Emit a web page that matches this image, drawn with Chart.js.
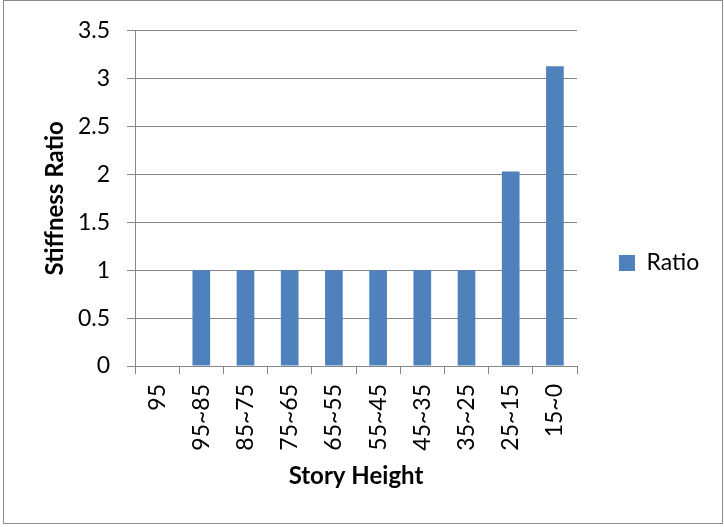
<!DOCTYPE html>
<html><head><meta charset="utf-8">
<script src="https://cdn.jsdelivr.net/npm/chart.js@4.4.1/dist/chart.umd.min.js"></script>
<style>html,body{margin:0;padding:0;background:#fff}#wrap{width:724px;height:527px;position:relative}</style>
</head><body><div id="wrap"><canvas id="c" width="724" height="527"></canvas></div>
<script>
const categories = ['95','95~85','85~75','75~65','65~55','55~45','45~35','35~25','25~15','15~0'];
const ratioValues = [null, 1, 1, 1, 1, 1, 1, 1, 2.03, 3.13];
const seriesName = 'Ratio';
const yTitle = 'Stiffness Ratio';
const xTitle = 'Story Height';
const yMin = 0, yMax = 3.5, yStep = 0.5;

const GRID = '#868686';
const BAR = '#4F81BD';
const PLOT_RIGHT = 577;

Chart.defaults.font.family = 'Lato, "Liberation Sans", sans-serif';
Chart.defaults.color = '#000';

const framePlugin = {
  id: 'frame',
  beforeDraw(chart) {
    const ctx = chart.ctx;
    ctx.save();
    ctx.fillStyle = '#fff';
    ctx.fillRect(0, 0, chart.width, chart.height);
    ctx.strokeStyle = '#8c8c8c';
    ctx.lineWidth = 1;
    ctx.strokeRect(3.5, 0.5, 719, 523);
    ctx.restore();
  }
};

const chart = new Chart(document.getElementById('c'), {
  type: 'bar',
  data: {
    labels: categories,
    datasets: [{
      label: seriesName,
      data: ratioValues,
      backgroundColor: BAR,
      borderWidth: 0,
      barPercentage: 0.4,
      categoryPercentage: 1.0
    }]
  },
  options: {
    responsive: false,
    devicePixelRatio: 1,
    animation: false,
    layout: { padding: { left: 0, top: 30, bottom: 31, right: 25 } },
    plugins: {
      legend: {
        position: 'right',
        align: 'center',
        labels: {
          boxWidth: 16,
          boxHeight: 16,
          padding: 42,
          font: { size: 23 },
          color: '#000'
        }
      },
      tooltip: { enabled: false }
    },
    scales: {
      x: {
        offset: true,
        grid: {
          display: true,
          drawOnChartArea: false,
          drawTicks: true,
          tickLength: 8,
          offset: true,
          color: GRID
        },
        border: { display: true, color: GRID, width: 1 },
        ticks: {
          autoSkip: false,
          maxRotation: 90,
          minRotation: 90,
          padding: 10,
          font: { size: 23 },
          color: '#000'
        },
        title: {
          display: true,
          text: xTitle,
          font: { size: 24, weight: 'bold' },
          color: '#000',
          padding: { top: 0, bottom: 5 }
        },
        afterFit(scale) { scale.height = 130; }
      },
      y: {
        min: yMin,
        max: yMax,
        ticks: {
          stepSize: yStep,
          padding: 17,
          font: { size: 23 },
          color: '#000',
          callback: (v) => String(v)
        },
        grid: {
          color: GRID,
          drawTicks: true,
          tickLength: 8
        },
        border: { display: true, color: GRID, width: 1 },
        title: {
          display: true,
          text: yTitle,
          font: { size: 24, weight: 'bold' },
          color: '#000',
          padding: { top: 41, bottom: 0 }
        },
        afterFit(scale) { scale.width = 135; }
      }
    }
  },
  plugins: [framePlugin]
});

// adjust right padding so plot area ends where the reference's does
const diff = PLOT_RIGHT - chart.chartArea.right;
chart.options.layout.padding.right = Math.max(0, chart.options.layout.padding.right - diff);
chart.update();
</script>
</body></html>
